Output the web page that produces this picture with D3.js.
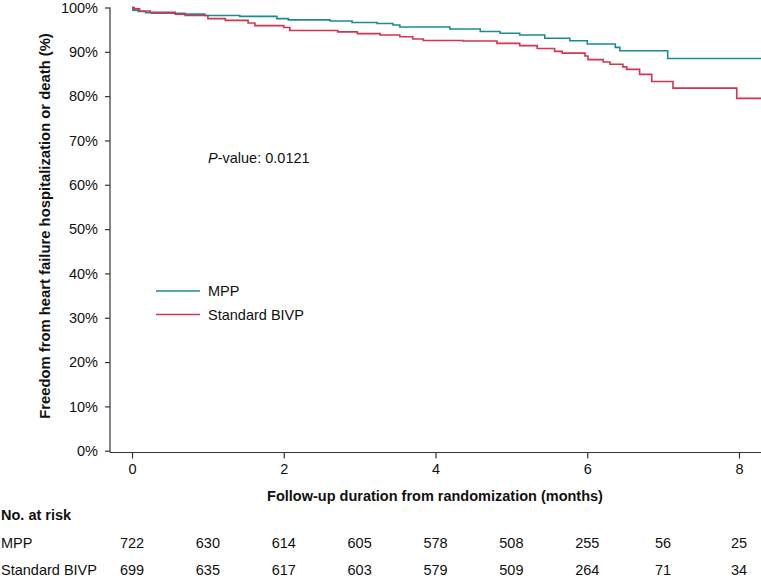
<!DOCTYPE html>
<html>
<head>
  <meta charset="utf-8" />
  <style>
    body { margin: 0; background: #fff; }
    text { font-family: "Liberation Sans", Arial, sans-serif; fill: #111; }
    .curve { fill: none; stroke-width: 1.6; }
    .axis path, .axis line { stroke: #333; stroke-width: 1.2; }
  </style>
</head>
<body>
  <svg id="chart" width="761" height="582"></svg>
  <script src="https://cdn.jsdelivr.net/npm/d3@7/dist/d3.min.js"></script>
<script>
// Kaplan-Meier step data (months, % event-free)
var mppTimes = [0, 0.01, 0.08, 0.18, 0.26, 0.70, 0.96, 1.42, 1.91, 2.06, 2.61, 2.90, 3.23, 3.44, 3.53, 4.19, 4.59, 4.85, 5.11, 5.44, 5.77, 6.00, 6.37, 6.43, 7.06, 8.29];
var mppSurv  = [100, 99.4, 99.1, 98.8, 98.7, 98.5, 98.2, 98.0, 97.5, 97.2, 96.95, 96.6, 96.4, 96.05, 95.6, 95.15, 94.6, 94.2, 93.8, 93.05, 92.5, 91.75, 91.0, 90.25, 88.5, 88.5];

var bivpTimes = [0, 0.03, 0.10, 0.24, 0.57, 0.70, 1.00, 1.23, 1.53, 1.62, 2.00, 2.08, 2.71, 2.97, 3.27, 3.53, 3.70, 3.84, 4.36, 4.81, 5.11, 5.34, 5.57, 5.67, 5.97, 6.01, 6.21, 6.30, 6.47, 6.52, 6.69, 6.85, 7.13, 7.97, 8.29];
var bivpSurv  = [100, 99.7, 99.2, 98.9, 98.5, 98.2, 97.5, 97.1, 96.5, 95.9, 95.5, 94.8, 94.5, 94.1, 93.8, 93.4, 92.9, 92.55, 92.45, 91.9, 91.4, 90.75, 90.1, 89.7, 89.05, 88.25, 87.7, 87.2, 86.6, 86.05, 84.9, 83.3, 81.8, 79.5, 79.5];

var xTicks = [0, 2, 4, 6, 8];
var yTicks = [0, 10, 20, 30, 40, 50, 60, 70, 80, 90, 100];

var riskMonths = [0, 1, 2, 3, 4, 5, 6, 7, 8];
var riskMPP  = [722, 630, 614, 605, 578, 508, 255, 56, 25];
var riskBIVP = [699, 635, 617, 603, 579, 509, 264, 71, 34];

var teal = '#1b8a97';
var red = '#d3344f';
var fs = 14.5;

var svg = d3.select('#chart');
var x = d3.scaleLinear().domain([0, 8]).range([132, 739]);
var y = d3.scaleLinear().domain([0, 100]).range([450.7, 7.5]);

// axes
svg.append('g')
  .attr('class', 'axis')
  .attr('transform', 'translate(110,0)')
  .call(d3.axisLeft(y).tickValues(yTicks).tickSize(5).tickPadding(7)
    .tickFormat(function (d) { return d + '%'; }))
  .call(function (g) {
    g.select('.domain').attr('d', 'M0,' + y(100) + 'V452.5');
    g.selectAll('text').attr('font-size', fs).attr('fill', '#111');
  });

svg.append('g')
  .attr('class', 'axis')
  .attr('transform', 'translate(0,452.5)')
  .call(d3.axisBottom(x).tickValues(xTicks).tickSize(6).tickPadding(5))
  .call(function (g) {
    g.select('.domain').attr('d', 'M110,0H761');
    g.selectAll('text').attr('font-size', fs).attr('fill', '#111');
  });

// axis titles
svg.append('text')
  .attr('transform', 'translate(50,226) rotate(-90)')
  .attr('text-anchor', 'middle')
  .attr('font-size', 14.8)
  .attr('font-weight', 'bold')
  .text('Freedom from heart failure hospitalization or death (%)');

svg.append('text')
  .attr('x', 435).attr('y', 501)
  .attr('text-anchor', 'middle')
  .attr('font-size', fs)
  .attr('font-weight', 'bold')
  .text('Follow-up duration from randomization (months)');

// curves
var line = d3.line()
  .x(function (d) { return x(d[0]); })
  .y(function (d) { return y(d[1]); })
  .curve(d3.curveStepAfter);

svg.append('path').attr('class', 'curve')
  .attr('stroke', teal)
  .attr('d', line(d3.zip(mppTimes, mppSurv)));

svg.append('path').attr('class', 'curve')
  .attr('stroke', red)
  .attr('d', line(d3.zip(bivpTimes, bivpSurv)));

// p-value
var pv = svg.append('text').attr('x', 208).attr('y', 162.5).attr('font-size', fs);
pv.append('tspan').attr('font-style', 'italic').text('P');
pv.append('tspan').text('-value: 0.0121');

// legend
var legend = [['MPP', teal], ['Standard BIVP', red]];
legend.forEach(function (d, i) {
  var ly = 291 + i * 23.5;
  svg.append('line')
    .attr('x1', 156).attr('x2', 200).attr('y1', ly).attr('y2', ly)
    .attr('stroke', d[1]).attr('stroke-width', 1.6);
  svg.append('text')
    .attr('x', 208).attr('y', ly + 5)
    .attr('font-size', fs)
    .text(d[0]);
});

// risk table
svg.append('text')
  .attr('x', 1).attr('y', 520)
  .attr('font-size', fs).attr('font-weight', 'bold')
  .text('No. at risk');

var rows = [['MPP', riskMPP, 548], ['Standard BIVP', riskBIVP, 575]];
rows.forEach(function (r) {
  svg.append('text')
    .attr('x', 1).attr('y', r[2])
    .attr('font-size', fs)
    .text(r[0]);
  svg.selectAll(null)
    .data(r[1])
    .enter().append('text')
    .attr('x', function (d, i) { return x(riskMonths[i]); })
    .attr('y', r[2])
    .attr('text-anchor', 'middle')
    .attr('font-size', fs)
    .text(function (d) { return d; });
});
</script>
</body>
</html>
